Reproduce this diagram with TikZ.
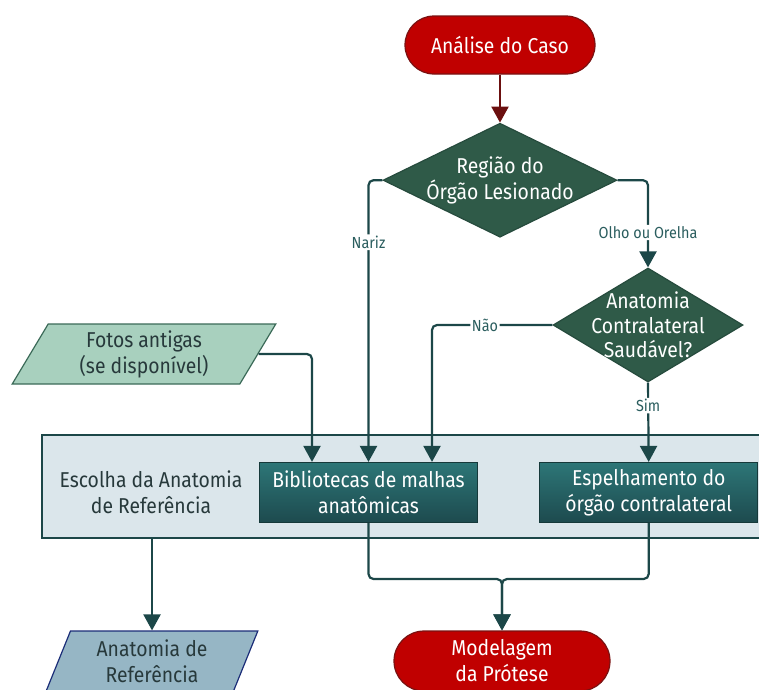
\documentclass[tikz,border=0pt]{standalone}
\usepackage{fontspec}
\setmainfont{Fira Sans}[FakeStretch=0.9]
\usepackage{tikz}
\usetikzlibrary{arrows.meta,positioning,shapes.geometric}
\definecolor{CaseRed}{HTML}{C00000}
\definecolor{CaseRedLine}{HTML}{7A1212}
\definecolor{DarkWine}{HTML}{6B0F0F}
\definecolor{DecideGreen}{HTML}{2F5A48}
\definecolor{DecideLine}{HTML}{264B3D}
\definecolor{FlowTeal}{HTML}{1C4748}
\definecolor{LabelTeal}{HTML}{2A5D5E}
\definecolor{PanelGray}{HTML}{DBE6EB}
\definecolor{PanelText}{HTML}{27393B}
\definecolor{BoxTop}{HTML}{2D7677}
\definecolor{BoxBottom}{HTML}{1D4A4E}
\definecolor{PhotoGreen}{HTML}{A8D0BE}
\definecolor{PhotoLine}{HTML}{3B6A58}
\definecolor{RefBlue}{HTML}{96B6C5}
\definecolor{RefLine}{HTML}{1B2D78}

\begin{document}
\begin{tikzpicture}[
  x=1pt,y=-1pt,
  every node/.style={font=\fontsize{21.5}{26}\selectfont,align=center},
  terminal/.style={draw=CaseRedLine,line width=1.2pt,fill=CaseRed,text=white,rounded corners=29pt,minimum width=190pt,minimum height=58pt,inner sep=0pt},
  decision/.style={diamond,draw=DecideLine,line width=1.2pt,fill=DecideGreen,inner sep=0pt},
  process/.style={draw=FlowTeal!80!black,line width=1.2pt,top color=BoxTop,bottom color=BoxBottom,text=white,minimum width=218pt,minimum height=60pt,inner sep=0pt},
  inout/.style={trapezium,trapezium stretches=true,line width=1.2pt,minimum height=60pt,inner sep=0pt,text=PanelText},
  arrow/.style={-{Triangle[length=16pt,width=17pt]},line width=2.2pt,color=FlowTeal,rounded corners=5pt},
  cond/.style={font=\fontsize{16}{18}\selectfont,text=LabelTeal,fill=white,inner sep=1.5pt}
]
\useasboundingbox (0,0) rectangle (759,689);
\clip (0,0) rectangle (759,689);
% reference anatomy panel
\node[draw=FlowTeal,line width=2pt,fill=PanelGray,minimum width=740pt,minimum height=103pt,inner sep=0pt] (panel) at (412,486.5) {};
\node[text=PanelText] (paneltitle) at (151,492) {Escolha da Anatomia\\de Referência};
\node[process] (bib) at (368.5,492.5) {Bibliotecas de malhas\\anatômicas};
\node[process,right=61pt of bib] (esp) {Espelhamento do\\órgão contralateral};
% decisions
\node[terminal] (start) at (500,45) {Análise do Caso};
\node[decision,minimum width=234pt,minimum height=114pt,below=48pt of start,label={[text=white]center:Região do\\Órgão Lesionado}] (region) {};
\node[decision,minimum width=190pt,minimum height=114pt,label={[text=white,font=\fontsize{21.5}{24.5}\selectfont]center:Anatomia\\Contralateral\\Saudável?}] (contra) at (648,325) {};
\node[inout,draw=PhotoLine,fill=PhotoGreen,trapezium left angle=63,trapezium right angle=117,minimum width=264pt] (fotos) at (144,354) {Fotos antigas\\(se disponível)};
% outputs
\node[inout,draw=RefLine,fill=RefBlue,trapezium left angle=69,trapezium right angle=111,minimum width=212pt] (ref) at (152,661) {Anatomia de\\Referência};
\node[terminal,minimum width=216pt,minimum height=60pt,rounded corners=30pt] (model) at (502,661) {Modelagem\\da Prótese};
\coordinate (merge) at (502,579);
\draw[arrow,color=DarkWine] (start) -- (region);
\draw[arrow] (region.west) -| node[cond,pos=0.61]{Nariz} (bib.north);
\draw[arrow] (region.east) -| node[cond,pos=0.8]{Olho ou Orelha} (contra.north);
\draw[arrow] (contra.west) -| node[cond,pos=0.28]{Não} ([xshift=63.5pt]bib.north);
\draw[arrow] (contra.south) -- node[cond,pos=0.29]{Sim} (esp.north);
\draw[arrow] (fotos.east) -| ([xshift=-56.5pt]bib.north);
\draw[arrow] (ref.north |- panel.south) -- (ref.north);
\draw[arrow] (bib.south) |- (merge) -- (model.north);
\draw[arrow] (esp.south) |- (merge) -- (model.north);
\end{tikzpicture}
\end{document}
